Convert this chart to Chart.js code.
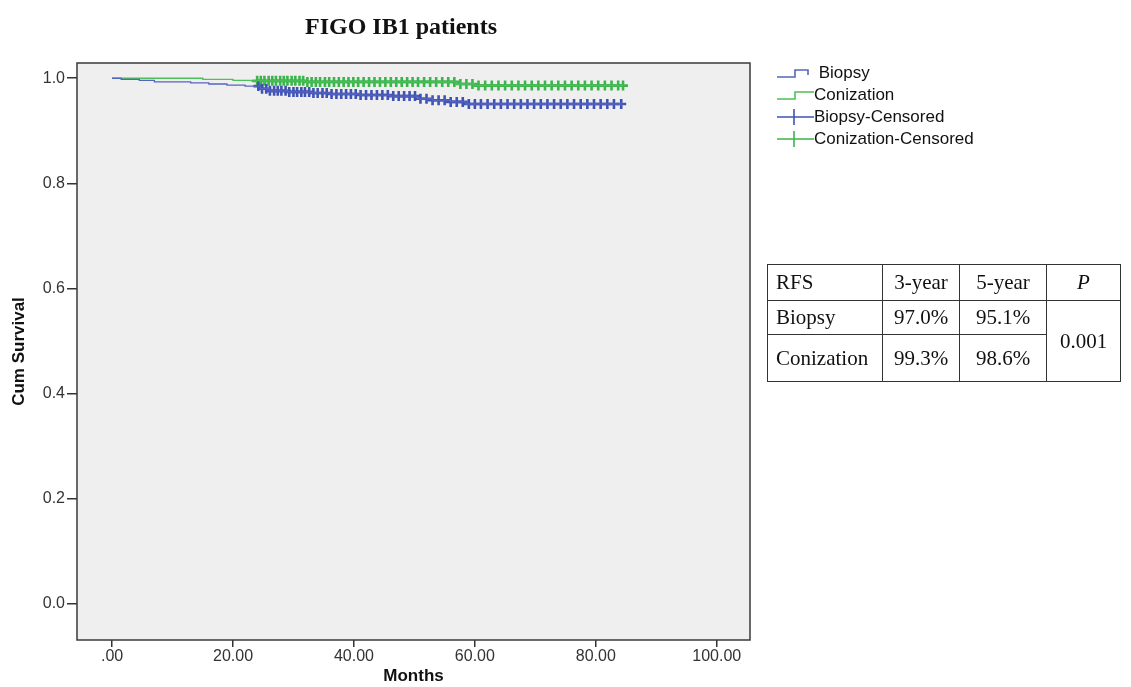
<!DOCTYPE html>
<html>
<head>
<meta charset="utf-8">
<script src="https://cdn.jsdelivr.net/npm/chart.js@4/dist/chart.umd.min.js"></script>
<style>
    body { margin: 0; background: #ffffff; }
    #wrap { position: relative; width: 1131px; height: 687px; overflow: hidden; }
    #chartTitle {
        position: absolute; left: 200px; width: 402px; top: 13px;
        text-align: center; font: bold 24px "Liberation Serif", "Times New Roman", serif; color: #111;
    }
    #legend { position: absolute; left: 776px; top: 62px; font: 17px "Liberation Sans", Arial, sans-serif; color: #111; }
    #legend div { height: 22px; line-height: 22px; display: flex; align-items: center; }
    #legend svg { width: 38px; height: 22px; flex: none; }
    #rfsTable {
        position: absolute; left: 767px; top: 264px; border-collapse: collapse;
        font: 21px "Liberation Serif", "Times New Roman", serif; color: #111;
    }
    #rfsTable td { border: 1.5px solid #333; padding: 0 8px; text-align: center; }
    #rfsTable td.first { text-align: left; }
</style>
</head>
<body>
<div id="wrap">
    <canvas id="kmChart" width="1131" height="687"></canvas>
    <div id="chartTitle">FIGO IB1 patients</div>
    <div id="legend"></div>
    <table id="rfsTable"></table>
</div>
<script>
const biopsyColor = "#4052b5";
const conizationColor = "#3bb54b";

// Kaplan-Meier steps: survival becomes value at given month
const biopsyTimes = [0, 1.5, 4.5, 7, 13, 16, 19, 22, 24.5, 26, 29, 33, 36, 41, 46, 50.5, 53, 56, 58.5, 84.5];
const biopsySurv = [1.000, 0.998, 0.996, 0.993, 0.991, 0.989, 0.987, 0.985, 0.980, 0.976, 0.974, 0.972, 0.970, 0.968, 0.966, 0.961, 0.958, 0.955, 0.951, 0.951];

const conizationTimes = [0, 15, 20, 23, 32, 57, 60, 84.5];
const conizationSurv = [1.000, 0.998, 0.996, 0.995, 0.993, 0.989, 0.986, 0.986];

// censored observations (months)
const biopsyCensored = [24.2, 24.8, 25.5, 26.1, 26.8, 27.4, 28.0, 28.7, 29.3, 30.0, 30.6, 31.3, 31.9, 32.6, 33.3,
    34.0, 34.8, 35.5, 36.3, 37.1, 37.9, 38.7, 39.5, 40.3, 41.1, 42.0, 42.9, 43.8, 44.7, 45.6, 46.5, 47.4, 48.3,
    49.2, 50.1, 51.0, 52.0, 53.0, 54.0, 55.0, 56.0, 57.0, 58.0, 59.0, 60.0, 61.0, 62.1, 63.2, 64.3, 65.4, 66.5,
    67.6, 68.7, 69.8, 70.9, 72.0, 73.1, 74.2, 75.3, 76.4, 77.5, 78.6, 79.7, 80.8, 81.9, 83.0, 84.2];
const conizationCensored = [24.0, 24.6, 25.2, 25.9, 26.5, 27.1, 27.8, 28.4, 29.0, 29.7, 30.3, 31.0, 31.6, 32.3,
    33.0, 33.7, 34.4, 35.2, 35.9, 36.7, 37.5, 38.3, 39.1, 39.9, 40.7, 41.6, 42.5, 43.4, 44.3, 45.2, 46.1, 47.0,
    47.9, 48.8, 49.7, 50.6, 51.6, 52.6, 53.6, 54.6, 55.6, 56.6, 57.6, 58.6, 59.6, 60.6, 61.7, 62.8, 63.9, 65.0,
    66.1, 67.2, 68.3, 69.4, 70.5, 71.6, 72.7, 73.8, 74.9, 76.0, 77.1, 78.2, 79.3, 80.4, 81.5, 82.6, 83.7, 84.5];

const xTicks = [0, 20, 40, 60, 80, 100];
const yTicks = [0, 0.2, 0.4, 0.6, 0.8, 1.0];

const tableRows = [
    ["RFS", "3-year", "5-year", "P"],
    ["Biopsy", "97.0%", "95.1%", "0.001"],
    ["Conization", "99.3%", "98.6%"]
];

function survivalAt(times, surv, t) {
    let s = surv[0];
    for (let i = 0; i < times.length; i++) {
        if (times[i] <= t) s = surv[i];
    }
    return s;
}

function stepPoints(times, surv) {
    return times.map((t, i) => ({ x: t, y: surv[i] }));
}

function censorPoints(list, times, surv) {
    return list.map(t => ({ x: t, y: survivalAt(times, surv, t) }));
}

const plotBox = {
    id: "plotBox",
    beforeDraw(chart) {
        const { ctx, chartArea: a } = chart;
        ctx.save();
        ctx.fillStyle = "#efefef";
        ctx.fillRect(a.left, a.top, a.right - a.left, a.bottom - a.top);
        ctx.restore();
    },
    afterDraw(chart) {
        const { ctx, chartArea: a } = chart;
        ctx.save();
        ctx.strokeStyle = "#3a3a3a";
        ctx.lineWidth = 1.5;
        ctx.strokeRect(a.left, a.top, a.right - a.left, a.bottom - a.top);
        ctx.restore();
    }
};

const tickFont = { family: "'Liberation Sans', Arial, sans-serif", size: 16 };
const titleFont = { family: "'Liberation Sans', Arial, sans-serif", size: 17, weight: "bold" };

new Chart(document.getElementById("kmChart"), {
    type: "line",
    data: {
        datasets: [
            {
                label: "Biopsy",
                data: stepPoints(biopsyTimes, biopsySurv),
                borderColor: "#5566c0",
                borderWidth: 1.3,
                stepped: "before",
                pointRadius: 0
            },
            {
                label: "Conization",
                data: stepPoints(conizationTimes, conizationSurv),
                borderColor: "#4cc05a",
                borderWidth: 1.3,
                stepped: "before",
                pointRadius: 0
            },
            {
                label: "Biopsy-Censored",
                data: censorPoints(biopsyCensored, biopsyTimes, biopsySurv),
                showLine: false,
                pointStyle: "cross",
                pointRadius: 5,
                pointBorderWidth: 2.6,
                pointBorderColor: biopsyColor
            },
            {
                label: "Conization-Censored",
                data: censorPoints(conizationCensored, conizationTimes, conizationSurv),
                showLine: false,
                pointStyle: "cross",
                pointRadius: 5,
                pointBorderWidth: 2.6,
                pointBorderColor: conizationColor
            }
        ]
    },
    options: {
        responsive: false,
        animation: false,
        layout: { padding: { left: 0, top: 63, right: 381, bottom: 0 } },
        plugins: {
            legend: { display: false },
            tooltip: { enabled: false }
        },
        scales: {
            x: {
                type: "linear",
                min: -5.8,
                max: 105.5,
                afterFit(scale) { scale.height = 47; },
                afterBuildTicks(scale) { scale.ticks = xTicks.map(v => ({ value: v })); },
                ticks: {
                    color: "#333",
                    font: tickFont,
                    padding: 0,
                    maxRotation: 0,
                    callback: v => v === 0 ? ".00" : v.toFixed(2)
                },
                grid: { drawOnChartArea: false, drawTicks: true, tickLength: 7, color: "#333", lineWidth: 1.5 },
                border: { display: false },
                title: { display: true, text: "Months", color: "#111", font: titleFont, padding: { top: 0, bottom: 0 } }
            },
            y: {
                type: "linear",
                min: -0.069,
                max: 1.029,
                afterFit(scale) { scale.width = 77; },
                afterBuildTicks(scale) { scale.ticks = yTicks.map(v => ({ value: v })); },
                ticks: {
                    color: "#333",
                    font: tickFont,
                    padding: 2,
                    callback: v => v.toFixed(1)
                },
                grid: { drawOnChartArea: false, drawTicks: true, tickLength: 10, color: "#333", lineWidth: 1.5 },
                border: { display: false },
                title: { display: true, text: "Cum Survival", color: "#111", font: titleFont, padding: { top: 9, bottom: 4 } }
            }
        }
    },
    plugins: [plotBox]
});

// legend with SPSS-like symbols
const legendItems = [
    { text: "\u00a0Biopsy", color: "#5566c0", kind: "stepDrop" },
    { text: "Conization", color: "#4cc05a", kind: "step" },
    { text: "Biopsy-Censored", color: biopsyColor, kind: "cross" },
    { text: "Conization-Censored", color: conizationColor, kind: "cross" }
];
const legendBox = document.getElementById("legend");
legendItems.forEach(item => {
    let path;
    if (item.kind === "stepDrop") path = `<path d="M1,15 H19 V8 H32 V13" fill="none" stroke="${item.color}" stroke-width="1.6"/>`;
    else if (item.kind === "step") path = `<path d="M1,15 H19 V8 H38" fill="none" stroke="${item.color}" stroke-width="1.6"/>`;
    else path = `<path d="M1,11 H38 M18,3 V19" fill="none" stroke="${item.color}" stroke-width="1.6"/>`;
    const row = document.createElement("div");
    row.innerHTML = `<svg viewBox="0 0 38 22">${path}</svg><span>${item.text}</span>`;
    legendBox.appendChild(row);
});

// results table
const rowHeights = [36, 34, 47];
const colWidths = [115, 77, 87, 74];
const table = document.getElementById("rfsTable");
tableRows.forEach((cells, r) => {
    const tr = document.createElement("tr");
    tr.style.height = rowHeights[r] + "px";
    cells.forEach((c, i) => {
        const td = document.createElement("td");
        td.textContent = c;
        td.style.width = (colWidths[i] - 17) + "px";
        if (i === 0) td.className = "first";
        if (r === 0 && i === 3) td.style.fontStyle = "italic";
        if (r === 1 && i === 3) td.rowSpan = 2;
        tr.appendChild(td);
    });
    table.appendChild(tr);
});
</script>
</body>
</html>
